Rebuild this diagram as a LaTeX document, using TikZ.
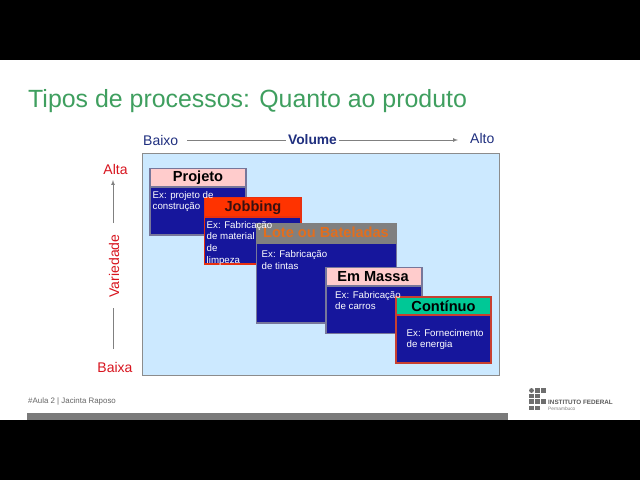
\documentclass[tikz,border=0pt]{standalone}
\usepackage{fontspec}
\setmainfont{Liberation Sans}
\definecolor{titlegreen}{HTML}{3F9F5F}
\definecolor{panelblue}{HTML}{CCE9FF}
\definecolor{navybody}{HTML}{16169C}
\definecolor{axisnavy}{HTML}{1F2F7F}
\definecolor{axisred}{HTML}{D8141E}
\definecolor{edgegray}{HTML}{77779A}
\definecolor{edgered}{HTML}{E8300F}
\definecolor{edgebrick}{HTML}{C84030}
\definecolor{jobred}{HTML}{FF3300}
\definecolor{jobtext}{HTML}{3A1010}
\definecolor{logogray}{HTML}{6E6E6E}
\tikzset{
  x=1pt,y=-1pt,
  boxbody/.style={fill=navybody,line width=1.4pt},
  boxhead/.style={line width=1.4pt},
  headtext/.style={font=\fontsize{14.6}{15}\selectfont\bfseries,inner sep=0pt,anchor=center},
  extext/.style={font=\fontsize{9.7}{11.7}\selectfont,text=white,align=left,anchor=north west,inner sep=0pt},
  axisl/.style={font=\fontsize{14}{15}\selectfont,inner sep=0pt},
  axisline/.style={draw=black!50,line width=0.7pt},
  logosq/.style={fill=logogray,draw=none},
}
\begin{document}
\begin{tikzpicture}
\useasboundingbox (0,0) rectangle (640,480);
\fill[white] (0,0) rectangle (640,480);
\fill[black] (0,0) rectangle (640,60);
\fill[black] (0,420) rectangle (640,480);
\fill[black!52] (27,413) rectangle (508,420);
\node[anchor=base west,inner sep=0pt,text=titlegreen,font=\fontsize{24.9}{28}\selectfont] (title) at (28,107) {Tipos de processos: Quanto ao produto};
% axes
\node[axisl,text=axisnavy,anchor=west] (baixoh) at (143,140) {Baixo};
\node[axisl,text=axisnavy,font=\fontsize{13.8}{15}\selectfont\bfseries] (volume) at (312.5,140) {Volume};
\node[axisl,text=axisnavy,anchor=west] (altoh) at (470,138) {Alto};
\draw[axisline,shorten <=9pt,shorten >=2pt] (baixoh.east) -- (baixoh.east -| volume.west);
\draw[axisline,-latex,shorten <=2pt,shorten >=12pt] (volume.east) -- (volume.east -| altoh.west);
\node[axisl,text=axisred] (altav) at (115.5,169) {Alta};
\node[axisl,text=axisred] (baixav) at (115,367) {Baixa};
\node[axisl,text=axisred,rotate=90] (varied) at (114,266) {Variedade};
\coordinate (vlowa) at (113,349);
\coordinate (vlowb) at (113,308);
\coordinate (vupa) at (113,223);
\coordinate (vtip) at (113,180);
\draw[axisline] (vlowa) -- (vlowb);
\draw[axisline,-latex] (vupa) -- (vtip);
% panel
\node[draw=black!45,fill=panelblue,line width=0.9pt,minimum width=357pt,minimum height=221.5pt,inner sep=0pt,anchor=north west] (panel) at (142,153) {};
% Projeto
\draw[boxbody,draw=edgegray] (150,187) rectangle (246,235);
\draw[boxhead,draw=edgegray,fill=red!20] (150,168.5) rectangle (246,187);
\node[headtext] (hprojeto) at (198,178) {Projeto};
% Jobbing
\draw[boxbody,draw=edgered] (204.5,217) rectangle (301,264);
\draw[boxhead,draw=edgered,fill=jobred] (204.5,197.5) rectangle (301,217);
\node[headtext,text=jobtext] (hjobbing) at (253,208) {Jobbing};
% Lote
\draw[boxbody,draw=edgegray] (256.5,243) rectangle (396.5,323);
\draw[boxhead,draw=black!50,fill=black!50] (256.5,223.5) rectangle (396.5,243);
\node[headtext,text={rgb,255:red,226;green,110;blue,30}] (hlote) at (326,232.5) {Lote ou Bateladas};
% Em Massa
\draw[boxbody,draw=edgegray] (326,286) rectangle (422,333.5);
\draw[boxhead,draw=edgegray,fill=red!20] (326,267.5) rectangle (422,286);
\node[headtext] (hmassa) at (373,277) {Em Massa};
% Continuo
\draw[boxbody,draw=edgebrick] (396,315) rectangle (491,363);
\draw[boxhead,draw=edgebrick,fill={rgb,255:red,0;green,200;blue,150}] (396,297) rectangle (491,315);
\node[headtext] (hcont) at (443.5,306.5) {Contínuo};
% examples
\node[extext] (eprojeto) at (152.5,191) {Ex: projeto de\\construção};
\node[extext] (ejobbing) at (206.5,220.8) {Ex: Fabricação\\de material\\de\\limpeza};
\node[extext] (elote) at (261.5,250.5) {Ex: Fabricação\\de tintas};
\node[extext] (emassa) at (335,291) {Ex: Fabricação\\de carros};
\node[extext] (econt) at (406.5,329) {Ex: Fornecimento\\de energia};
% footer
\node[anchor=base west,inner sep=0pt,text=black!60,font=\fontsize{7.9}{9}\selectfont] (footer) at (28,403.5) {\#Aula 2 | Jacinta Raposo};
% logo
\fill[logosq] (531.5,390.5) circle (2.4);
\foreach \c/\r/\w in {535/388/5,540.5/388/5.5,529/393.5/5,535/393.5/5,529/399/5,535/399/5,540.5/399/5.5,529/405.5/5,535/405.5/5}{
  \fill[logosq] (\c,\r) rectangle ++(\w,4.5);
}
\node[anchor=base west,inner sep=0pt,text=black!65,font=\fontsize{6.3}{7}\selectfont\bfseries] (ifname) at (548,404.5) {INSTITUTO FEDERAL};
\node[anchor=base west,inner sep=0pt,text=black!50,font=\fontsize{4.8}{5}\selectfont] (ifsub) at (548,410) {Pernambuco};
\end{tikzpicture}
\end{document}
